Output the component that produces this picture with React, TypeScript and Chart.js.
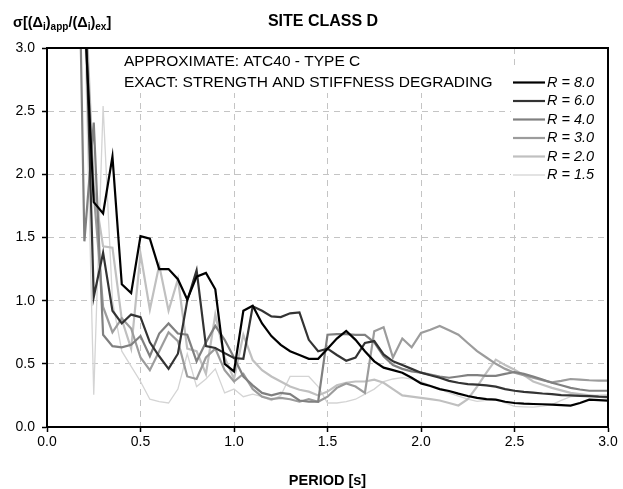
import React, { useEffect, useRef } from "react";
import { Chart, registerables } from "chart.js";

Chart.register(...registerables);

// Period axis (s)
const periods = [
  0.15, 0.2, 0.25, 0.3, 0.35, 0.4, 0.45, 0.5, 0.55, 0.6,
  0.65, 0.7, 0.75, 0.8, 0.85, 0.9, 0.95, 1.0, 1.05, 1.1,
  1.15, 1.2, 1.25, 1.3, 1.35, 1.4, 1.45, 1.5, 1.55, 1.6,
  1.65, 1.7, 1.75, 1.8, 1.85, 1.9, 1.95, 2.0, 2.05, 2.1,
  2.15, 2.2, 2.25, 2.3, 2.35, 2.4, 2.45, 2.5, 2.55, 2.6,
  2.65, 2.7, 2.75, 2.8, 2.85, 2.9, 2.95, 3.0,
];

const r80 = [
  6.0, 3.3, 1.78, 1.69, 2.14, 1.13, 1.06, 1.51, 1.49, 1.25,
  1.25, 1.17, 1.01, 1.19, 1.22, 1.09, 0.5, 0.44, 0.92, 0.96,
  0.82, 0.72, 0.65, 0.6, 0.57, 0.54, 0.54, 0.62, 0.7, 0.76,
  0.69, 0.6, 0.52, 0.47, 0.45, 0.43, 0.39, 0.345, 0.325, 0.3,
  0.285, 0.264, 0.245, 0.23, 0.22, 0.216, 0.2, 0.19, 0.185, 0.182,
  0.18, 0.177, 0.173, 0.169, 0.19, 0.216, 0.212, 0.208,
];

const r60 = [
  6.5, 3.6, 1.03, 1.38, 0.92, 0.82, 0.89, 0.87, 0.67, 0.56,
  0.46, 0.58, 1.0, 1.24, 0.64, 0.625, 0.585, 0.546, 0.54, 0.955,
  0.92, 0.876, 0.87, 0.9, 0.907, 0.69, 0.6, 0.62, 0.57, 0.525,
  0.55, 0.665, 0.68, 0.575, 0.52, 0.49, 0.46, 0.43, 0.41, 0.39,
  0.365, 0.35, 0.34, 0.335, 0.33, 0.32, 0.3, 0.287, 0.278, 0.272,
  0.265, 0.26, 0.253, 0.25, 0.247, 0.244, 0.24, 0.238,
];

const r40 = [
  5.5, 1.47, 2.41, 0.73, 0.64, 0.63, 0.65, 0.72, 0.56, 0.74,
  0.82, 0.74, 0.73, 0.52, 0.67, 0.8, 0.69, 0.55, 0.4, 0.33,
  0.27, 0.25, 0.27, 0.26, 0.21, 0.2, 0.2, 0.73, 0.735, 0.735,
  0.73, 0.73, 0.67, 0.56, 0.49, 0.46, 0.44, 0.43, 0.415, 0.4,
  0.39, 0.4, 0.41, 0.41, 0.405, 0.405, 0.42, 0.435, 0.42, 0.4,
  0.375, 0.35, 0.33, 0.31, 0.297, 0.287, 0.287, 0.287,
];

const r30 = [
  4.2, 3.4, 1.85, 0.95, 0.75, 0.86, 0.78, 0.55, 0.45, 0.6,
  0.75, 0.68, 0.4, 0.38, 0.55, 0.62, 0.45, 0.36, 0.42, 0.3,
  0.24, 0.22, 0.23, 0.22, 0.2, 0.22, 0.2, 0.24, 0.31, 0.345,
  0.32, 0.27, 0.757, 0.79, 0.55, 0.7, 0.63, 0.744, 0.77, 0.8,
  0.765, 0.73, 0.665, 0.6, 0.55, 0.5, 0.46, 0.43, 0.41, 0.39,
  0.37, 0.353, 0.365, 0.38, 0.375, 0.37, 0.367, 0.367,
];

const r20 = [
  5.0, 3.6, 1.9, 1.43, 1.42, 0.85, 0.62, 1.37, 0.93, 1.28,
  0.92, 1.17, 0.62, 0.6, 0.42, 0.89, 0.55, 0.38, 0.73, 0.53,
  0.45, 0.4, 0.36, 0.32, 0.295, 0.28, 0.25, 0.28, 0.33, 0.35,
  0.36, 0.36, 0.375, 0.35, 0.3, 0.25, 0.24, 0.23, 0.22, 0.21,
  0.19, 0.17, 0.22, 0.32, 0.43, 0.533, 0.49, 0.454, 0.41, 0.36,
  0.335, 0.31, 0.29, 0.27, 0.26, 0.25, 0.24, 0.23,
];

const r15 = [
  4.0, 3.3, 0.256, 2.54, 1.0, 0.6, 0.48, 0.36, 0.22, 0.2,
  0.19, 0.3, 0.58, 0.32, 0.38, 0.46, 0.27, 0.3, 0.24, 0.26,
  0.24, 0.21, 0.25, 0.4, 0.4, 0.4, 0.32, 0.19, 0.19, 0.2,
  0.22, 0.26, 0.3, 0.36, 0.38, 0.39, 0.38, 0.36, 0.33, 0.3,
  0.27, 0.245, 0.22, 0.203, 0.21, 0.216, 0.19, 0.163, 0.16, 0.158,
  0.165, 0.177, 0.21, 0.24, 0.245, 0.25, 0.253, 0.256,
];

const seriesLabels = ["R = 8.0", "R = 6.0", "R = 4.0", "R = 3.0", "R = 2.0", "R = 1.5"];
const seriesValues = [r80, r60, r40, r30, r20, r15];
const seriesColors = ["#000000", "#333333", "#808080", "#9c9c9c", "#c0c0c0", "#d4d4d4"];
const seriesWidths = [2.2, 2.2, 2.2, 2.2, 2.2, 1.3];

const titleText = "SITE CLASS D";
const xTitleText = "PERIOD [s]";
const noteLines = ["APPROXIMATE: ATC40 - TYPE C", "EXACT: STRENGTH AND STIFFNESS DEGRADING"];

const FONT = "'Liberation Sans', Arial, sans-serif";

const decorPlugin = {
  id: "decor",
  beforeDatasetsDraw(chart: any) {
    const ctx = chart.ctx;
    ctx.save();
    ctx.fillStyle = "#ffffff";
    // note box and legend box (opaque, hide grid)
    ctx.fillRect(118, 49, 392, 44);
    ctx.fillRect(511, 68, 95, 122);
    ctx.restore();
  },
  afterDraw(chart: any) {
    const ctx = chart.ctx;
    const a = chart.chartArea;
    ctx.save();
    // frame
    ctx.strokeStyle = "#000";
    ctx.lineWidth = 2;
    ctx.strokeRect(a.left, a.top, a.right - a.left, a.bottom - a.top);

    // title
    ctx.fillStyle = "#000";
    ctx.textBaseline = "middle";
    ctx.textAlign = "center";
    ctx.font = `bold 16px ${FONT}`;
    ctx.fillText(titleText, 323, 22);

    // x title
    ctx.font = `bold 14.5px ${FONT}`;
    ctx.fillText(xTitleText, (a.left + a.right) / 2, 481);

    // y title with subscripts
    ctx.textAlign = "left";
    ctx.textBaseline = "alphabetic";
    const base = 27;
    const parts: [string, boolean][] = [
      ["σ[(Δ", false], ["i", true], [")", false], ["app", true],
      ["/(Δ", false], ["i", true], [")", false], ["ex", true], ["]", false],
    ];
    let x = 13;
    for (const [t, sub] of parts) {
      ctx.font = sub ? `bold 10px ${FONT}` : `bold 14.5px ${FONT}`;
      ctx.fillText(t, x, sub ? base + 3 : base);
      x += ctx.measureText(t).width;
    }

    // note text
    ctx.font = `15.5px ${FONT}`;
    ctx.textBaseline = "middle";
    ctx.fillText(noteLines[0], 124, 62);
    ctx.fillText(noteLines[1], 124, 82.5);

    // legend
    chart.data.datasets.forEach((ds: any, i: number) => {
      const y = 82.5 + i * 18.5;
      ctx.strokeStyle = ds.borderColor;
      ctx.lineWidth = ds.borderWidth;
      ctx.beginPath();
      ctx.moveTo(513, y);
      ctx.lineTo(545, y);
      ctx.stroke();
      ctx.fillStyle = "#000";
      ctx.font = `italic 14.5px ${FONT}`;
      ctx.fillText(ds.label, 547, y);
    });
    ctx.restore();
  },
};

export default function App() {
  const ref = useRef<HTMLCanvasElement | null>(null);

  useEffect(() => {
    if (!ref.current) return;
    const datasets = seriesLabels.map((label, k) => ({
      label,
      data: periods.map((p, i) => ({ x: p, y: seriesValues[k][i] })),
      borderColor: seriesColors[k],
      backgroundColor: seriesColors[k],
      borderWidth: seriesWidths[k],
      pointRadius: 0,
      tension: 0,
      fill: false,
    }));
    const tickFont = { family: FONT, size: 14 };
    const chart = new Chart(ref.current, {
      type: "line",
      data: { datasets },
      options: {
        responsive: false,
        animation: false,
        events: [],
        layout: { padding: { top: 48, right: 15, left: 0, bottom: 0 } },
        plugins: {
          legend: { display: false },
          title: { display: false },
          tooltip: { enabled: false },
        },
        scales: {
          x: {
            type: "linear",
            min: 0,
            max: 3,
            afterFit: (s: any) => { s.height = 62; },
            ticks: {
              stepSize: 0.5,
              color: "#000",
              font: tickFont,
              padding: 2,
              maxRotation: 0,
              autoSkip: false,
              callback: (v: any) => Number(v).toFixed(1),
            },
            grid: { color: "#c4c4c4", lineWidth: 1, tickColor: "#000", tickLength: 5, tickWidth: 1.5 },
            border: { display: true, color: "#000", width: 2, dash: [6, 5] },
          },
          y: {
            type: "linear",
            min: 0,
            max: 3,
            afterFit: (s: any) => { s.width = 47; },
            ticks: {
              stepSize: 0.5,
              color: "#000",
              font: tickFont,
              padding: 7,
              callback: (v: any) => Number(v).toFixed(1),
            },
            grid: { color: "#c4c4c4", lineWidth: 1, tickColor: "#000", tickLength: 5, tickWidth: 1.5 },
            border: { display: true, color: "#000", width: 2, dash: [6, 5] },
          },
        },
      } as any,
      plugins: [decorPlugin],
    });
    return () => chart.destroy();
  }, []);

  return (
    <div style={{ position: "absolute", left: 0, top: 0, width: 623, height: 489, background: "#fff" }}>
      <canvas ref={ref} width={623} height={489} style={{ display: "block" }} />
    </div>
  );
}
